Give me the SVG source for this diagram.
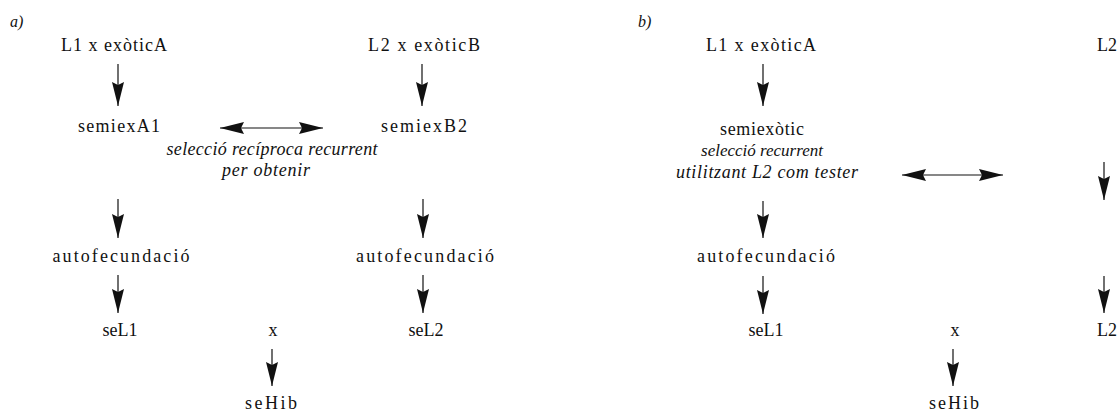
<svg xmlns="http://www.w3.org/2000/svg" width="1119" height="415" viewBox="0 0 1119 415">
  <style>
    .lbl { font-family: "Liberation Serif", "DejaVu Serif", serif; font-size: 18px; fill: #111; text-anchor: middle; }
    .it { font-family: "Liberation Serif", "DejaVu Serif", serif; font-style: italic; font-size: 18px; fill: #111; text-anchor: middle; }
    .tag { font-family: "Liberation Serif", "DejaVu Serif", serif; font-style: italic; font-size: 16px; fill: #111; }
    .edge { stroke: #111; stroke-width: 1.2; fill: none; }
  </style>
  <defs>
    <marker id="head" viewBox="0 0 24 12" markerUnits="userSpaceOnUse" markerWidth="24" markerHeight="12" refX="24" refY="6" orient="auto-start-reverse">
      <path d="M0,0 L24,6 L0,12 L3,6 Z" fill="#111"/>
    </marker>
  </defs>
  <rect width="1119" height="415" fill="#fff"/>

  <!-- panel labels -->
  <text class="tag" x="10" y="27">a)</text>
  <text class="tag" x="638" y="27">b)</text>

  <!-- panel a nodes -->
  <g id="a-l1-exoticaA"><text class="lbl" x="114" y="51" textLength="106" lengthAdjust="spacing">L1 x exòticA</text></g>
  <g id="a-l2-exoticB"><text class="lbl" x="424" y="51" textLength="112" lengthAdjust="spacing">L2 x exòticB</text></g>
  <g id="a-semiexA1"><text class="lbl" x="119" y="132" textLength="82" lengthAdjust="spacing">semiexA1</text></g>
  <g id="a-semiexB2"><text class="lbl" x="424" y="132" textLength="86" lengthAdjust="spacing">semiexB2</text></g>
  <g id="a-sel-note">
    <text class="it" x="272" y="155" textLength="211" lengthAdjust="spacing">selecció recíproca recurrent</text>
    <text class="it" x="266" y="176" textLength="88" lengthAdjust="spacing">per obtenir</text>
  </g>
  <g id="a-auto1"><text class="lbl" x="121" y="262" textLength="137" lengthAdjust="spacing">autofecundació</text></g>
  <g id="a-auto2"><text class="lbl" x="425" y="262" textLength="138" lengthAdjust="spacing">autofecundació</text></g>
  <g id="a-seL1"><text class="lbl" x="120" y="336">seL1</text></g>
  <g id="a-x"><text class="lbl" x="273" y="336">x</text></g>
  <g id="a-seL2"><text class="lbl" x="426" y="336">seL2</text></g>
  <g id="a-seHib"><text class="lbl" x="271" y="409" textLength="52" lengthAdjust="spacing">seHib</text></g>

  <!-- panel b nodes -->
  <g id="b-l1-exoticaA"><text class="lbl" x="761" y="51" textLength="110" lengthAdjust="spacing">L1 x exòticA</text></g>
  <g id="b-l2-top"><text class="lbl" x="1107" y="51">L2</text></g>
  <g id="b-semiexotic"><text class="lbl" x="762" y="135" textLength="84" lengthAdjust="spacing">semiexòtic</text></g>
  <g id="b-sel-note">
    <text class="it" x="762" y="156" style="font-size:17px">selecció recurrent</text>
    <text class="it" x="767" y="178" textLength="182" lengthAdjust="spacing">utilitzant L2 com tester</text>
  </g>
  <g id="b-auto"><text class="lbl" x="766" y="262" textLength="138" lengthAdjust="spacing">autofecundació</text></g>
  <g id="b-seL1"><text class="lbl" x="766" y="336">seL1</text></g>
  <g id="b-x"><text class="lbl" x="955" y="336">x</text></g>
  <g id="b-l2-bottom"><text class="lbl" x="1107" y="336">L2</text></g>
  <g id="b-seHib"><text class="lbl" x="954" y="409" textLength="50" lengthAdjust="spacing">seHib</text></g>

  <!-- connectors -->
  <g id="connectors" class="edge" marker-end="url(#head)">
    <line x1="118" y1="64" x2="118" y2="106"/>
    <line x1="422" y1="64" x2="422" y2="106"/>
    <line x1="220" y1="128" x2="323" y2="128" marker-start="url(#head)"/>
    <line x1="118" y1="199" x2="118" y2="238"/>
    <line x1="423" y1="199" x2="423" y2="238"/>
    <line x1="118" y1="275" x2="118" y2="313"/>
    <line x1="423" y1="275" x2="423" y2="313"/>
    <line x1="272" y1="349" x2="272" y2="386"/>

    <line x1="763" y1="64" x2="763" y2="106"/>
    <line x1="902" y1="175" x2="1003" y2="175" marker-start="url(#head)"/>
    <line x1="1104" y1="162" x2="1104" y2="200"/>
    <line x1="763" y1="201" x2="763" y2="238"/>
    <line x1="763" y1="276" x2="763" y2="314"/>
    <line x1="1104" y1="276" x2="1104" y2="313"/>
    <line x1="953" y1="349" x2="953" y2="386"/>
  </g>
</svg>
